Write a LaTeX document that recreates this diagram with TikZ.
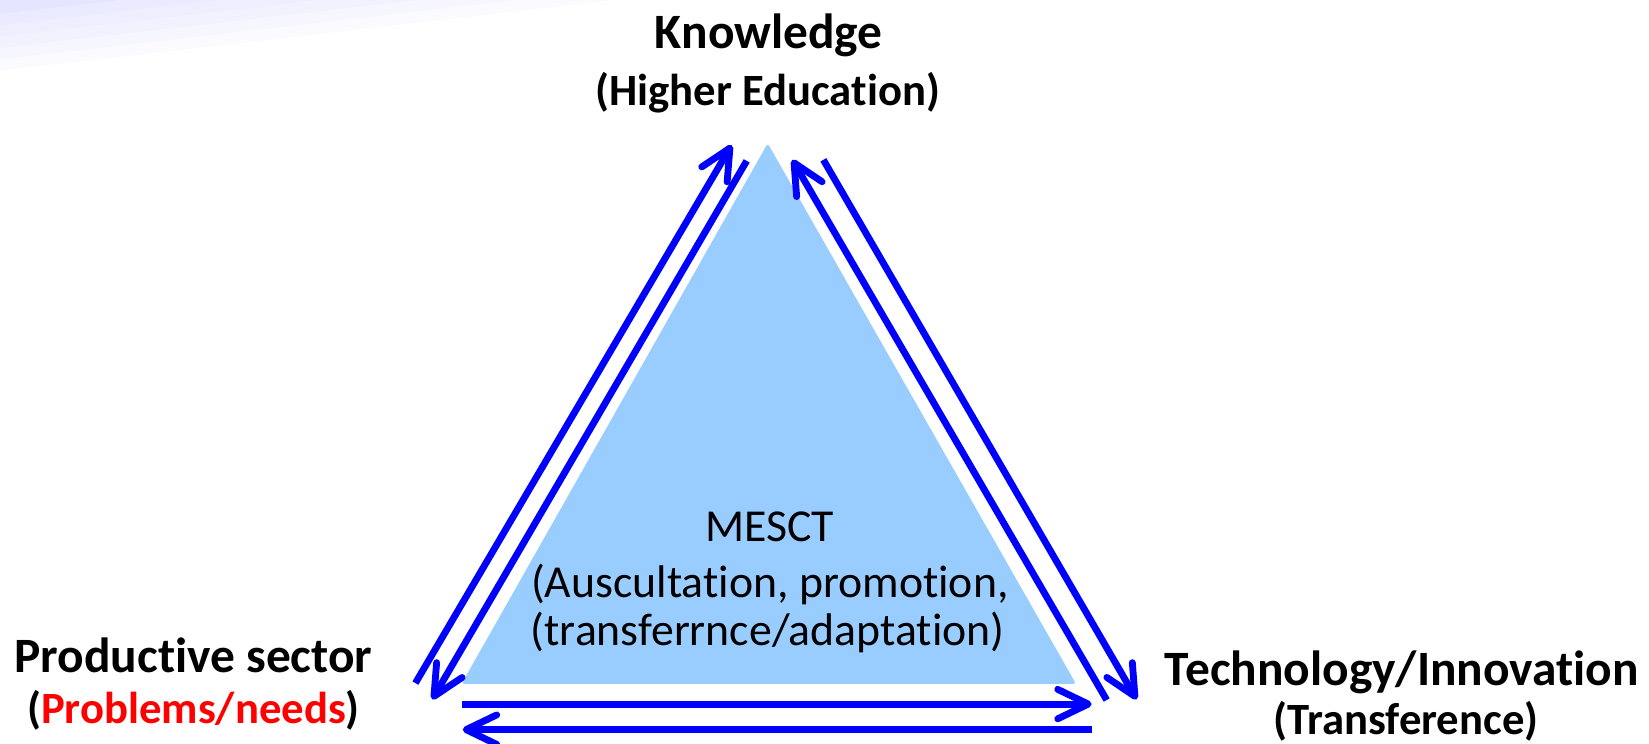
\documentclass[tikz,border=0pt]{standalone}
\usepackage{fontspec}
\setmainfont[Ligatures=NoCommon]{Carlito}
\usetikzlibrary{arrows.meta}
\definecolor{tri}{RGB}{153,204,255}
\definecolor{arr}{RGB}{0,0,255}
\definecolor{redtxt}{RGB}{255,0,0}
\begin{document}
\begin{tikzpicture}[x=1pt,y=1pt,
  hdr/.style={font=\fontsize{47}{56}\selectfont\bfseries, anchor=base, inner sep=0pt},
  sub/.style={font=\fontsize{42.5}{50}\selectfont\bfseries, anchor=base, inner sep=0pt},
  mid/.style={font=\fontsize{43.5}{52}\selectfont, anchor=base, inner sep=0pt},
  flow/.style={draw=arr, line width=6.5pt, -{Straight Barb[length=29pt,width=28pt,round]}}]
\useasboundingbox (0,0) rectangle (1568,707);
% faint background bands (top-left)
\foreach \c/\col in {67.2/blue!2, 56.4/blue!3.5, 45.6/blue!5, 34.8/blue!6.5, 24/blue!8, 13.2/blue!10}{
  \fill[\col] (0,707) -- (0,707-\c) -- ({\c/0.115},707) -- cycle;
}
% triangle
\coordinate (A) at (730,574);
\coordinate (B) at (436,55);
\coordinate (C) at (1026,55);
\filldraw[fill=tri, draw=white, line width=3pt, rounded corners=6pt] (A) -- (B) -- (C) -- cycle;
% arrow end points
\coordinate (lo1) at (395,57.5);   \coordinate (lo2) at (695.7,569);
\coordinate (li1) at (710,554);    \coordinate (li2) at (411,42);
\coordinate (ri1) at (1052.3,41.4);\coordinate (ri2) at (753.4,555);
\coordinate (ro1) at (782.9,555);  \coordinate (ro2) at (1080.8,42);
\coordinate (bu1) at (439.6,37.5); \coordinate (bu2) at (1038,37.5);
\coordinate (bl1) at (1038,13.2);  \coordinate (bl2) at (440,13.2);
\draw[flow] (lo1) -- (lo2);
\draw[flow] (li1) -- (li2);
\draw[flow] (ri1) -- (ri2);
\draw[flow] (ro1) -- (ro2);
\draw[flow] (bu1) -- (bu2);
\draw[flow] (bl1) -- (bl2);
% labels
\node[hdr] (know) at (731,661) {Knowledge};
\node[sub] (he) at (730,607) {(Higher Education)};
\node[hdr] (prod) at (184,68) {Productive sector};
\node[sub] (needs) at (184,19) {(\textcolor{redtxt}{Problems/needs})};
\node[hdr] (tech) at (1333,55) {Technology/Innovation};
\node[sub] (trans) at (1337,9) {(Transference)};
\node[mid] (m1) at (732,192) {MESCT};
\node[mid] (m2) at (732,139) {(Auscultation, promotion,};
\node[mid] (m3) at (730,93) {(transferrnce/adaptation)};
\end{tikzpicture}
\end{document}
